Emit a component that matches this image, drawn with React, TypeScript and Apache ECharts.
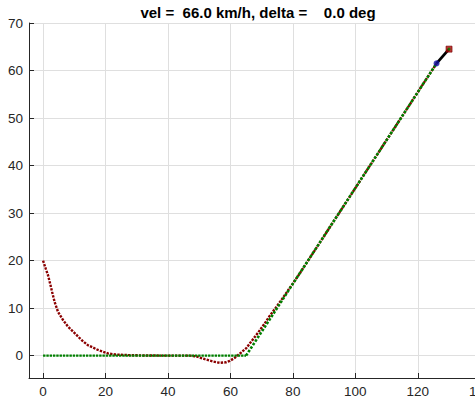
import React, { useEffect, useRef } from 'react';
import * as echarts from 'echarts';

const titleText = 'vel =  66.0 km/h, delta =    0.0 deg';
const xTicks = [0, 20, 40, 60, 80, 100, 120, 140];
const yTicks = [0, 10, 20, 30, 40, 50, 60, 70];
const xRange = [-4.5, 146];
const yRange = [-4.7, 70];

// vehicle trajectory (dark red)
const trajX = [0, 0.86, 1.6, 2.4, 2.9, 3.7, 4.8, 6.4, 8.0, 10.2, 12.3, 14.4, 17.6, 20.8, 23, 27, 32, 40, 47, 49, 51.8, 54.5, 56.6, 58.5, 59.8, 61.3, 62.4, 63.5, 65.1, 66.7, 68.8, 71, 72.6, 75, 78, 82, 126];
const trajY = [20, 18.3, 16.9, 14.8, 13.4, 11.3, 9.2, 7.5, 6.1, 4.7, 3.3, 2.2, 1.2, 0.46, 0.25, 0.12, 0.05, 0, 0, -0.15, -0.74, -1.25, -1.5, -1.4, -1.1, -0.5, 0.1, 0.7, 1.6, 3.0, 4.8, 6.8, 8.4, 10.5, 13.3, 17.1, 61.5];

// reference path (green)
const pathX = [0, 65, 126];
const pathY = [0, 0, 61.5];

// vehicle pose
const vehicleRear = [126, 61.5];
const vehicleFront = [130, 64.5];

const FONT = '"Liberation Sans", Arial, Helvetica, sans-serif';
const AX = '#262626';

export default function App() {
  const ref = useRef<HTMLDivElement>(null);
  useEffect(() => {
    if (!ref.current) return;
    const chart = echarts.init(ref.current, undefined, { renderer: 'svg' });
    const traj = trajX.map((x, i) => [x, trajY[i]]);
    const path = pathX.map((x, i) => [x, pathY[i]]);
    const axisCommon = {
      type: 'value' as const,
      axisLine: { show: true, onZero: false, lineStyle: { color: AX, width: 1 } },
      axisTick: { show: true, inside: true, length: 5, lineStyle: { color: AX, width: 1 } },
      axisLabel: { color: AX, fontSize: 13.5, fontFamily: FONT, margin: 6 },
      splitLine: { show: true, lineStyle: { color: '#dfdfdf', width: 1 } },
    };
    chart.setOption({
      animation: false,
      grid: { left: 29, right: -24, top: 23, bottom: 19, containLabel: false, outerBoundsMode: 'none' },
      graphic: [
        {
          type: 'text',
          x: 258,
          y: 5,
          style: {
            text: titleText,
            align: 'center',
            verticalAlign: 'top',
            fontSize: 15,
            fontWeight: 'bold',
            fontFamily: FONT,
            fill: '#000',
          },
        },
      ],
      xAxis: {
        ...axisCommon,
        min: xRange[0],
        max: xRange[1],
        axisTick: { ...axisCommon.axisTick, customValues: xTicks },
        axisLabel: { ...axisCommon.axisLabel, customValues: xTicks },
      },
      yAxis: {
        ...axisCommon,
        min: yRange[0],
        max: yRange[1],
        axisTick: { ...axisCommon.axisTick, customValues: yTicks },
        axisLabel: { ...axisCommon.axisLabel, customValues: yTicks },
      },
      series: [
        {
          type: 'line',
          data: traj,
          symbol: 'none',
          z: 2,
          lineStyle: { color: '#8b0000', width: 2.4, type: [2.4, 1.2], cap: 'butt' },
        },
        {
          type: 'line',
          data: path.slice(0, 2),
          symbol: 'none',
          z: 3,
          lineStyle: { color: '#008000', width: 2.4, type: [2.4, 0.9], cap: 'butt' },
        },
        {
          type: 'line',
          data: path.slice(1),
          symbol: 'none',
          z: 3,
          lineStyle: { color: '#008000', width: 2.6, type: [2.6, 1.6], cap: 'butt' },
        },
        {
          type: 'line',
          data: [vehicleRear, vehicleFront],
          symbol: 'none',
          z: 4,
          lineStyle: { color: '#000', width: 2.8 },
        },
        {
          type: 'scatter',
          data: [vehicleRear],
          symbol: 'circle',
          symbolSize: 6,
          z: 5,
          itemStyle: { color: '#1010a0' },
        },
        {
          type: 'scatter',
          data: [vehicleFront],
          symbol: 'rect',
          symbolSize: 6,
          z: 5,
          itemStyle: { color: '#b00000', borderColor: '#700000', borderWidth: 0.8 },
        },
        {
          type: 'scatter',
          data: [vehicleFront],
          symbol: 'circle',
          symbolSize: 3,
          z: 6,
          itemStyle: { color: '#008000' },
        },
      ],
    });
    return () => chart.dispose();
  }, []);
  return (
    <div
      ref={ref}
      style={{ position: 'absolute', left: 0, top: 0, width: 475, height: 397, background: '#fff' }}
    />
  );
}
